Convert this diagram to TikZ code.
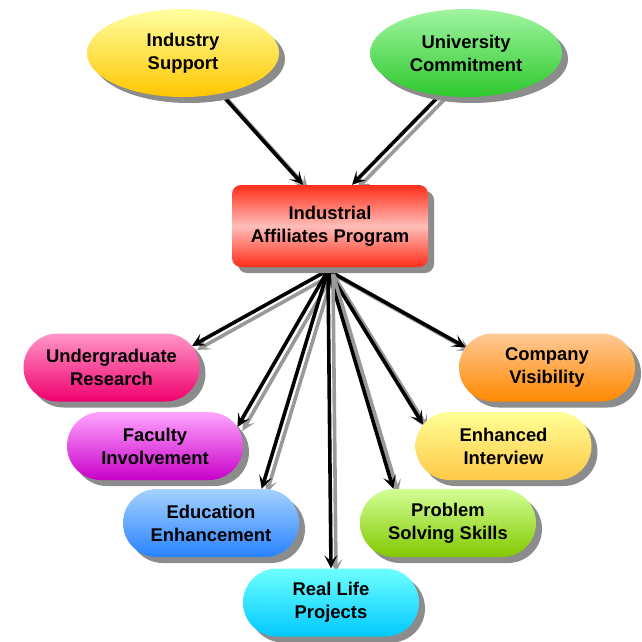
\documentclass[tikz,border=0pt]{standalone}
\usepackage{fontspec}
\setmainfont{Liberation Sans}
\usetikzlibrary{shapes.geometric,shapes.misc,shadows,arrows.meta,backgrounds,calc}
\begin{document}
\begin{tikzpicture}[x=1pt,y=-1pt,
  lbl/.style={align=center,font=\fontsize{18.4}{23}\selectfont\bfseries,text=black,inner sep=0pt},
  shad/.style={drop shadow={shadow xshift=6pt,shadow yshift=-6pt,fill=black!45,opacity=1}},
  oval/.style={ellipse,lbl,shad,minimum width=192pt,minimum height=88pt},
  pill/.style={rounded rectangle,lbl,shad,minimum width=176pt,minimum height=68pt},
  hub/.style={rectangle,rounded corners=9pt,lbl,shad,minimum width=196pt,minimum height=82pt},
  arr/.style={line width=3.6pt,black,-{Stealth[length=13pt,width=13pt,inset=6pt]},
    preaction={draw=black!40,line width=3.6pt,transform canvas={xshift=5pt,yshift=-4pt}}}
]
\useasboundingbox (0,0) rectangle (642,641);

\node[oval,top color={rgb,255:red,255;green,255;blue,160},bottom color={rgb,255:red,255;green,198;blue,0}] (ind) at (183,53) {Industry\\Support};
\node[oval,top color={rgb,255:red,160;green,245;blue,160},bottom color={rgb,255:red,45;green,200;blue,45}] (uni) at (466,53) {University\\Commitment};

\node[hub,top color={rgb,255:red,255;green,45;blue,25},bottom color={rgb,255:red,255;green,45;blue,25},middle color={rgb,255:red,255;green,190;blue,185}] (iap) at (330,226) {Industrial\\Affiliates Program};

\node[pill,top color={rgb,255:red,255;green,150;blue,200},bottom color={rgb,255:red,240;green,0;blue,110}] (ur) at (111.5,367.5) {Undergraduate\\Research};
\node[pill,top color={rgb,255:red,255;green,200;blue,150},bottom color={rgb,255:red,255;green,138;blue,0}] (cv) at (547,367.5) {Company\\Visibility};
\node[pill,top color={rgb,255:red,255;green,165;blue,255},bottom color={rgb,255:red,200;green,0;blue,200}] (fi) at (155,446) {Faculty\\Involvement};
\node[pill,top color={rgb,255:red,255;green,255;blue,150},bottom color={rgb,255:red,255;green,200;blue,70}] (ei) at (503.5,446) {Enhanced\\Interview};
\node[pill,top color={rgb,255:red,165;green,210;blue,255},bottom color={rgb,255:red,40;green,130;blue,255}] (ee) at (211,523) {Education\\Enhancement};
\node[pill,top color={rgb,255:red,210;green,255;blue,150},bottom color={rgb,255:red,130;green,200;blue,0}] (ps) at (448,523) {Problem\\Solving Skills};
\node[pill,top color={rgb,255:red,110;green,255;blue,255},bottom color={rgb,255:red,0;green,200;blue,255}] (rl) at (331,602.5) {Real Life\\Projects};

\coordinate (fan) at ($(iap.south)+(-2,3)$);
\coordinate (inA) at ($(iap.north)+(-27,0)$);
\coordinate (inB) at ($(iap.north)+(22,0)$);

\begin{scope}[on background layer]
\draw[arr] (ind.-47) -- (inA);
\draw[arr] (uni.-122) -- (inB);
\draw[arr] (fan) -- (ur.15);
\draw[arr] (fan) -- (cv.166);
\draw[arr] (fan) -- (fi.13);
\draw[arr] (fan) -- (ei.165);
\draw[arr] (fan) -- (ee.34);
\draw[arr] (fan) -- (ps.148);
\draw[arr] (fan) -- (rl.north);
\end{scope}
\end{tikzpicture}
\end{document}
